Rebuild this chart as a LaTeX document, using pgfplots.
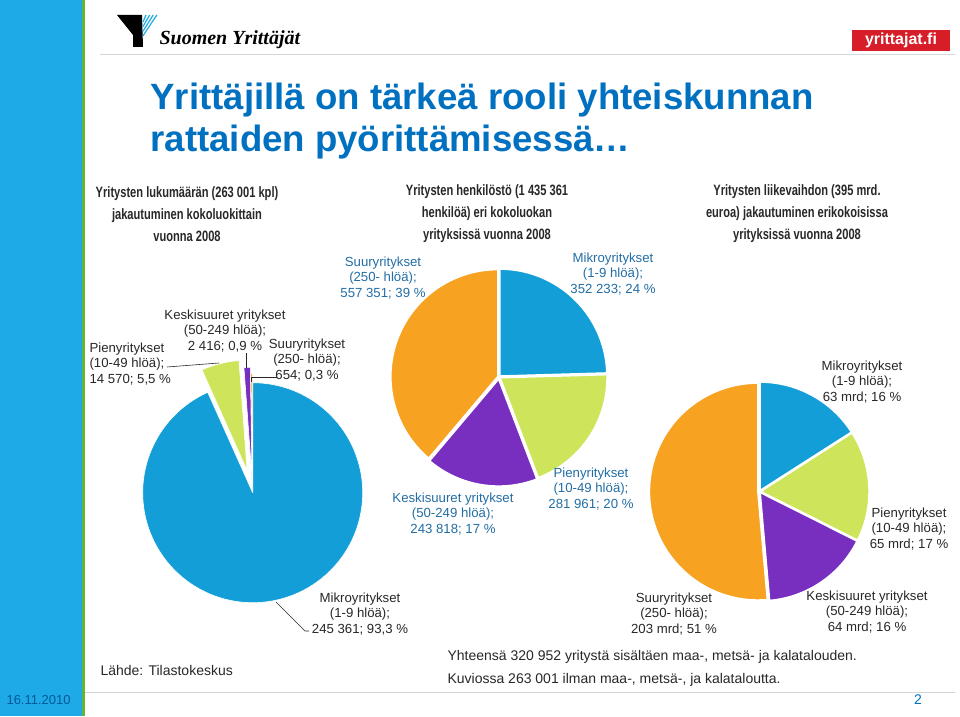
\documentclass[border=0pt]{standalone}
\usepackage{fontspec}
\setmainfont{Liberation Sans}
\newfontfamily\narrowfont[FakeStretch=0.74]{Liberation Sans}
\newfontfamily\logofont{Liberation Serif}
\usepackage{pgfplots}
\pgfplotsset{compat=1.18}

\definecolor{pieblue}{RGB}{20,158,216}
\definecolor{piegreen}{RGB}{206,228,90}
\definecolor{piepurple}{RGB}{120,46,190}
\definecolor{pieorange}{RGB}{247,163,33}
\definecolor{titleblue}{RGB}{0,112,192}
\definecolor{lblblue}{RGB}{35,110,165}
\definecolor{txtdark}{RGB}{40,40,40}
\definecolor{bandblue}{RGB}{30,170,230}
\definecolor{bandgreen}{RGB}{100,180,60}
\definecolor{logored}{RGB}{215,30,40}
\definecolor{sepgray}{RGB}{210,215,218}

% one slice: #1 low angle, #2 high angle, #3 colour, #4 explode, #5 border width
\newcommand{\pieslice}[5]{%
  \edef\pmid{\fpeval{(#1+#2)/2}}%
  \edef\pdx{\fpeval{round(#4*cosd(\pmid),5)}}%
  \edef\pdy{\fpeval{round(#4*sind(\pmid),5)}}%
  \edef\pdo{\noexpand\addplot[fill=#3, draw=white, line width=#5, line join=round, domain=#1:#2, samples=120] ({\pdx+cos(x)},{\pdy+sin(x)}) -- (axis cs:\pdx,\pdy) -- cycle;}%
  \pdo}
% four values clockwise from 12 o'clock: #1-#4 values, #5-#8 explode, #9 border
\newcommand{\fourpie}[9]{%
  \edef\pa{\fpeval{round(90-360*(#1)/(#1+#2+#3+#4),4)}}%
  \edef\pb{\fpeval{round(90-360*(#1+#2)/(#1+#2+#3+#4),4)}}%
  \edef\pc{\fpeval{round(90-360*(#1+#2+#3)/(#1+#2+#3+#4),4)}}%
  \pieslice{\pa}{90}{pieblue}{#5}{#9}%
  \pieslice{\pb}{\pa}{piegreen}{#6}{#9}%
  \pieslice{\pc}{\pb}{piepurple}{#7}{#9}%
  \pieslice{-270}{\pc}{pieorange}{#8}{#9}%
}
\pgfplotsset{pieaxis/.style={anchor=south west, at={(0,0)}, scale only axis, xmin=-1, xmax=1, ymin=-1, ymax=1, hide axis, clip=false}}

\newcommand{\lbl}{\fontsize{13.2}{15.3}\selectfont}
\newcommand{\sub}{\narrowfont\bfseries\fontsize{15}{22}\selectfont}

\begin{document}
\begin{tikzpicture}[x=1pt,y=1pt]
\fill[white] (0,0) rectangle (960,716);
\path[use as bounding box] (0,0) rectangle (960,716);

% left band
\fill[bandblue] (0,0) rectangle (82,716);
\fill[bandgreen] (82,0) rectangle (85,716);
\node[anchor=west, text=titleblue!80!black, font=\fontsize{13}{15}\selectfont] at (3,16) {16.11.2010};

% header
\fill[black] (117,701) -- (142,701) -- (143,669) -- (133,669) -- (133,681) -- cycle;
\foreach \i in {0,1,2,3} {
  \draw[bandblue, line width=1.2pt] ({146+3.6*\i},701) -- (143,{694-4.6*\i});
}
\node[anchor=base west, font=\logofont\bfseries\itshape\fontsize{20}{24}\selectfont] at (156,671) {Suomen Yrittäjät};
\fill[logored] (852,665) rectangle (950,686);
\node[text=white, font=\bfseries\fontsize{16}{18}\selectfont] at (901,675.5) {yrittajat.fi};
\draw[sepgray, line width=0.8pt] (100,662) -- (955,662);

% title
\node[anchor=base west, text=titleblue, font=\bfseries\fontsize{36.6}{42}\selectfont] at (147,606) {Yrittäjillä on tärkeä rooli yhteiskunnan};
\node[anchor=base west, text=titleblue, font=\bfseries\fontsize{36.6}{42}\selectfont] at (147,564) {rattaiden pyörittämisessä…};

% subtitles
\node[align=center, text=txtdark, font=\sub] at (187,502) {Yritysten lukumäärän (263 001 kpl)\\jakautuminen kokoluokittain\\vuonna 2008};
\node[align=center, text=txtdark, font=\sub] at (487,502) {Yritysten henkilöstö (1 435 361\\henkilöä) eri kokoluokan\\yrityksissä vuonna 2008};
\node[align=center, text=txtdark, font=\sub] at (797,502) {Yritysten liikevaihdon (395 mrd.\\euroa) jakautuminen erikokoisissa\\yrityksissä vuonna 2008};

% pie 1: number of enterprises (centre 252.7,223.3; r 110)
\begin{scope}[xshift=142.7pt, yshift=113.3pt]
\begin{axis}[pieaxis, width=220pt, height=220pt]
\fourpie{245361}{14570}{2416}{654}{0}{0.21}{0.14}{0.08}{0.6pt}
\end{axis}
\end{scope}
% pie 2: personnel (centre 499,339; r 107)
\begin{scope}[xshift=392pt, yshift=232pt]
\begin{axis}[pieaxis, width=214pt, height=214pt]
\fourpie{352233}{281961}{243818}{557351}{0.012}{0.012}{0.02}{0.012}{1.6pt}
\end{axis}
\end{scope}
% pie 3: turnover (centre 759.5,224.5; r 108.5)
\begin{scope}[xshift=651pt, yshift=116pt]
\begin{axis}[pieaxis, width=217pt, height=217pt]
\fourpie{63}{65}{64}{203}{0.01}{0.01}{0.01}{0.015}{1.6pt}
\end{axis}
\end{scope}

% pie 1 labels
\node[align=center, text=txtdark, font=\lbl] at (225,385) {Keskisuuret yritykset\\(50-249 hlöä);\\2 416; 0,9 \%};
\node[align=left, anchor=west, text=txtdark, font=\lbl] at (86,352) {Pienyritykset\\(10-49 hlöä);\\14 570; 5,5 \%};
\node[align=center, text=txtdark, font=\lbl] at (307,356) {Suuryritykset\\(250- hlöä);\\654; 0,3 \%};
\node[align=center, text=txtdark, font=\lbl] at (360,102) {Mikroyritykset\\(1-9 hlöä);\\245 361; 93,3 \%};
\draw[txtdark, line width=0.6pt] (167,349) -- (219,353);
\draw[txtdark, line width=0.6pt] (246,363) -- (246,348);
\draw[txtdark, line width=0.6pt] (277,339) -- (251,339) -- (251,334);
\draw[txtdark, line width=0.6pt] (276,114) -- (305,85) -- (309,85);

% pie 2 labels
\node[align=center, text=lblblue, font=\lbl] at (383,438) {Suuryritykset\\(250- hlöä);\\557 351; 39 \%};
\node[align=center, text=lblblue, font=\lbl] at (613,442) {Mikroyritykset\\(1-9 hlöä);\\352 233; 24 \%};
\node[align=center, text=lblblue, font=\lbl] at (453,202) {Keskisuuret yritykset\\(50-249 hlöä);\\243 818; 17 \%};
\node[align=center, text=lblblue, font=\lbl] at (591,227) {Pienyritykset\\(10-49 hlöä);\\281 961; 20 \%};

% pie 3 labels
\node[align=center, text=txtdark, font=\lbl] at (862,334) {Mikroyritykset\\(1-9 hlöä);\\63 mrd; 16 \%};
\node[align=center, text=txtdark, font=\lbl] at (909,187) {Pienyritykset\\(10-49 hlöä);\\65 mrd; 17 \%};
\node[align=center, text=txtdark, font=\lbl] at (867,104) {Keskisuuret yritykset\\(50-249 hlöä);\\64 mrd; 16 \%};
\node[align=center, text=txtdark, font=\lbl] at (674,102) {Suuryritykset\\(250- hlöä);\\203 mrd; 51 \%};

% footer
\node[anchor=west, text=txtdark, font=\fontsize{14}{16}\selectfont] at (97,46) {Lähde: Tilastokeskus};
\node[anchor=west, text=txtdark, font=\fontsize{14}{16}\selectfont] at (444,59) {Yhteensä 320 952 yritystä sisältäen maa-, metsä- ja kalatalouden.};
\node[anchor=west, text=txtdark, font=\fontsize{14}{16}\selectfont] at (444,36) {Kuviossa 263 001 ilman maa-, metsä-, ja kalataloutta.};
\draw[sepgray, line width=0.8pt] (85,24) -- (955,24);
\node[text=titleblue, font=\fontsize{14}{16}\selectfont] at (918,16) {2};
\end{tikzpicture}
\end{document}
